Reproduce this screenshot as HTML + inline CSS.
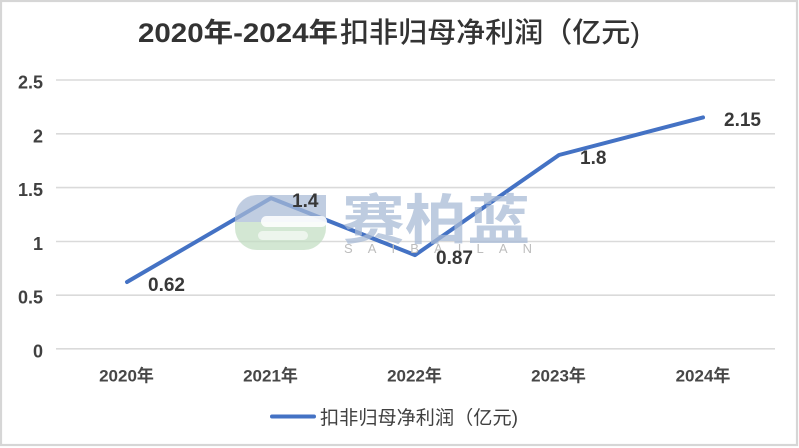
<!DOCTYPE html>
<html>
<head>
<meta charset="utf-8">
<style>
  html,body{margin:0;padding:0;background:#fff;}
  svg{display:block;}
  .lat{font-family:"Liberation Sans","Noto Sans CJK SC",sans-serif;}
  .cjk{font-family:"Liberation Sans","Noto Sans CJK SC",sans-serif;}
</style>
</head>
<body>
<svg width="799" height="448" viewBox="0 0 799 448" xmlns="http://www.w3.org/2000/svg">
  <rect x="0" y="0" width="799" height="448" fill="#ffffff"/>
  <!-- outer frame -->
  <rect x="1" y="1" width="796" height="444" fill="none" stroke="#d6d6d6" stroke-width="2.2"/>

  <!-- title -->
  <text class="lat" x="138" y="42" font-size="27" font-weight="bold" fill="#333333" textLength="200" lengthAdjust="spacingAndGlyphs">2020年-2024年</text>
  <text class="cjk" x="340" y="42" font-size="28" font-weight="500" fill="#333333" textLength="300" lengthAdjust="spacingAndGlyphs">扣非归母净利润（亿元)</text>

  <!-- gridlines -->
  <g stroke="#dadada" stroke-width="1.6">
    <line x1="56" y1="80" x2="775" y2="80"/>
    <line x1="56" y1="133.8" x2="775" y2="133.8"/>
    <line x1="56" y1="187.6" x2="775" y2="187.6"/>
    <line x1="56" y1="241.5" x2="775" y2="241.5"/>
    <line x1="56" y1="295.2" x2="775" y2="295.2"/>
    <line x1="56" y1="348.8" x2="775" y2="348.8"/>
  </g>

  <!-- y labels -->
  <g class="lat" font-size="18" font-weight="bold" fill="#404040" text-anchor="end">
    <text x="43" y="88.5">2.5</text>
    <text x="43" y="142.3">2</text>
    <text x="43" y="196.1">1.5</text>
    <text x="43" y="250">1</text>
    <text x="43" y="303.7">0.5</text>
    <text x="43" y="357.3">0</text>
  </g>

  <!-- x labels -->
  <g class="lat" font-size="17" font-weight="bold" fill="#474747" text-anchor="middle">
    <text x="126.5" y="381.5">2020年</text>
    <text x="270.5" y="381.5">2021年</text>
    <text x="414.5" y="381.5">2022年</text>
    <text x="558.5" y="381.5">2023年</text>
    <text x="703" y="381.5">2024年</text>
  </g>

  <!-- series line -->
  <polyline points="127,282 271,198.1 415,255.1 559,155 703,117.4" fill="none" stroke="#4472c4" stroke-width="4" stroke-linejoin="round" stroke-linecap="round"/>

  <!-- watermark -->
  <g opacity="0.72">
    <path d="M326 195 H257 A22 22 0 0 0 235 217 V222 H326 Z" fill="#a9bbd6"/>
    <path d="M235 222 V228 A22 22 0 0 0 257 250 H304 A22 22 0 0 0 326 228 V222 Z" fill="#c3dec3"/>
  </g>
  <rect x="261" y="216" width="66" height="11" rx="5.5" fill="#ffffff" opacity="0.85"/>
  <rect x="258" y="231" width="50" height="9" rx="4.5" fill="#ffffff" opacity="0.6"/>
  <text class="cjk" x="342" y="239" font-size="54" font-weight="bold" fill="#a9bbd6" opacity="0.75" textLength="188" lengthAdjust="spacingAndGlyphs">赛柏蓝</text>
  <text class="lat" x="344" y="253" font-size="13" fill="#bdbdbd" textLength="188" lengthAdjust="spacing">SAIBAILAN</text>

  <!-- data labels -->
  <g class="lat" font-size="19" font-weight="bold" fill="#383838">
    <text x="148" y="290.8">0.62</text>
    <text x="292" y="206.9">1.4</text>
    <text x="436" y="263.9">0.87</text>
    <text x="580" y="163.8">1.8</text>
    <text x="724" y="126.2">2.15</text>
  </g>

  <!-- legend -->
  <line x1="272" y1="416.5" x2="314" y2="416.5" stroke="#4472c4" stroke-width="4" stroke-linecap="round"/>
  <text class="cjk" x="320" y="424" font-size="19" fill="#404040" textLength="198" lengthAdjust="spacingAndGlyphs">扣非归母净利润（亿元)</text>
</svg>
</body>
</html>
